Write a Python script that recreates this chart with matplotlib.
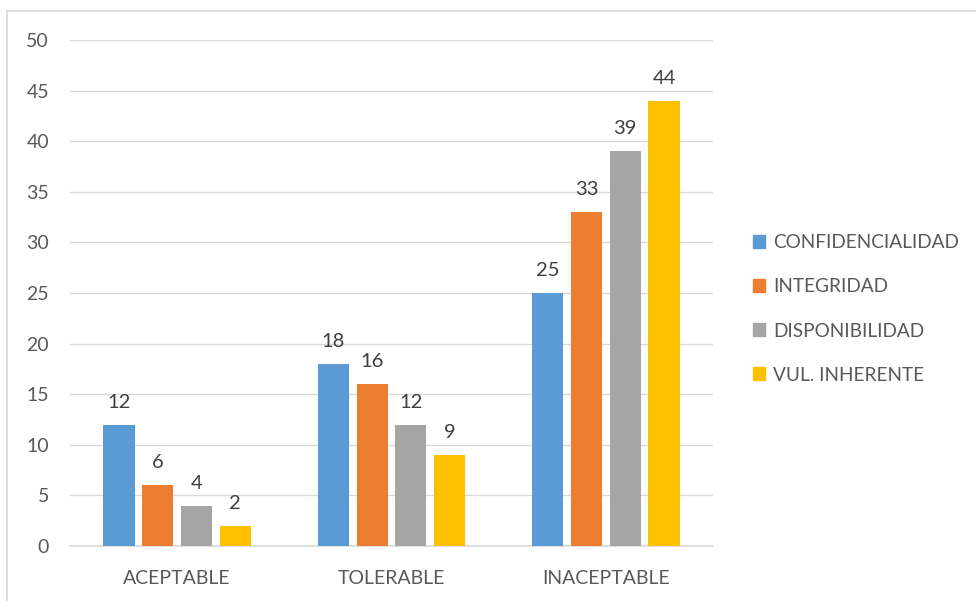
import matplotlib
matplotlib.use("Agg")
import matplotlib.pyplot as plt
from matplotlib.lines import Line2D
import numpy as np

categories = ["ACEPTABLE", "TOLERABLE", "INACEPTABLE"]
series_names = ["CONFIDENCIALIDAD", "INTEGRIDAD", "DISPONIBILIDAD", "VUL. INHERENTE"]
confidencialidad = [12, 18, 25]
integridad = [6, 16, 33]
disponibilidad = [4, 12, 39]
vul_inherente = [2, 9, 44]
y_ticks = [0, 5, 10, 15, 20, 25, 30, 35, 40, 45, 50]

series_values = [confidencialidad, integridad, disponibilidad, vul_inherente]
colors = ["#5B9BD5", "#ED7D31", "#A5A5A5", "#FFC000"]
text_color = "#595959"
grid_color = "#D9D9D9"

plt.rcParams["font.family"] = ["Lato", "DejaVu Sans"]

W, H = 976, 601
fig = plt.figure(figsize=(W / 100, H / 100), dpi=100)
fig.patch.set_facecolor("white")

ax = fig.add_axes([70 / W, 1 - 546 / H, (713 - 70) / W, (546 - 40) / H])

x = np.arange(len(categories))
pitch = 0.181
width = 0.145
offsets = (np.arange(len(series_names)) - 1.5) * pitch

for vals, name, col, off in zip(series_values, series_names, colors, offsets):
    bars = ax.bar(x + off, vals, width=width, color=col, label=name, zorder=3)
    for b, v in zip(bars, vals):
        ax.annotate(str(v), (b.get_x() + b.get_width() / 2, v),
                    xytext=(0, 10), textcoords="offset points",
                    ha="center", va="bottom", fontsize=14.5, color="#404040")

ax.set_xlim(-0.5, len(categories) - 0.5)
ax.set_ylim(0, 50)
ax.set_yticks(y_ticks)
ax.set_xticks(x)
ax.set_xticklabels(categories)
ax.grid(axis="y", color=grid_color, linewidth=1, zorder=0)
for s in ["top", "right", "left"]:
    ax.spines[s].set_visible(False)
ax.spines["bottom"].set_color(grid_color)
ax.spines["bottom"].set_linewidth(1.2)
ax.tick_params(axis="both", length=0, labelsize=14, colors=text_color)
ax.tick_params(axis="y", pad=15)
ax.tick_params(axis="x", pad=17)

handles = [plt.Rectangle((0, 0), 1, 1, color=c) for c in colors]
leg = fig.legend(handles, series_names, loc="center left",
                 bbox_to_anchor=(736 / W, 1 - 309 / H), frameon=False,
                 fontsize=13.7, labelcolor=text_color, handlelength=0.65,
                 handleheight=0.65, handletextpad=0.4, labelspacing=1.42)

# outer chart border
fig.add_artist(Line2D([7 / W, 7 / W], [0, 1 - 11 / H], transform=fig.transFigure,
                      color=grid_color, linewidth=1.2))
fig.add_artist(Line2D([7 / W, 1], [1 - 11 / H, 1 - 11 / H], transform=fig.transFigure,
                      color=grid_color, linewidth=1.2))

fig.savefig("out.png", dpi=100)
